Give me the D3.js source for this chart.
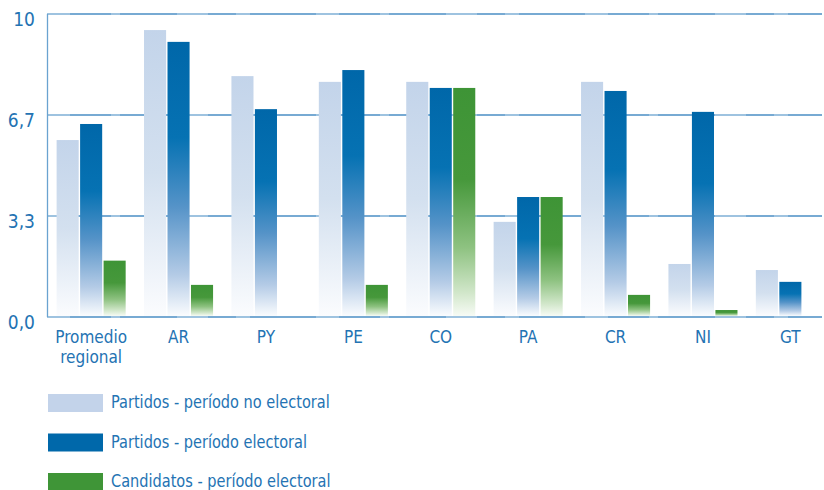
<!DOCTYPE html>
<html>
<head>
<meta charset="utf-8">
<script src="https://cdn.jsdelivr.net/npm/d3@7"></script>
<style>
  body { margin: 0; background: #fff; }
  text { font-family: "DejaVu Sans Condensed", "DejaVu Sans", sans-serif; fill: #2473b3; }
</style>
</head>
<body>
<div id="chartContainer"></div>
<script>
// chart size
var WIDTH = 824;
var HEIGHT = 490;

// categories (x axis)
var categories = ["Promedio regional", "AR", "PY", "PE", "CO", "PA", "CR", "NI", "GT"];
// series names
var seriesNames = ["Partidos - período no electoral", "Partidos - período electoral", "Candidatos - período electoral"];
// values (null = no bar)
var partidosNoElectoral = [5.84, 9.47, 7.95, 7.76, 7.76, 3.14, 7.76, 1.75, 1.55];
var partidosElectoral   = [6.37, 9.08, 6.86, 8.15, 7.56, 3.96, 7.46, 6.77, 1.16];
var candidatosElectoral = [1.86, 1.06, null, 1.06, 7.56, 3.96, 0.73, 0.23, null];
// y ticks and their labels
var tickValues = [0, 10 / 3, 20 / 3, 10];
var tickLabels = ["0,0", "3,3", "6,7", "10"];

var seriesValues = [partidosNoElectoral, partidosElectoral, candidatosElectoral];

var svg = d3.select("#chartContainer").append("svg")
    .attr("width", WIDTH)
    .attr("height", HEIGHT);

// gradients, one for every series (fade to white at the bottom of each bar)
var defs = svg.append("defs");
var gradStops = [
  [["0", "#c3d4ea"], ["0.5", "#d3e0ef"], ["1", "#fbfcfe"]],
  [["0", "#0067a9"], ["0.35", "#0672b3"], ["0.6", "#5593c8"], ["0.85", "#b4cbe6"], ["1", "#fafcfe"]],
  [["0", "#3e9436"], ["0.4", "#46983b"], ["0.7", "#8ec281"], ["0.9", "#d2e7cb"], ["1", "#f7fbf5"]]
];
gradStops.forEach(function (stops, i) {
  var g = defs.append("linearGradient")
      .attr("id", "grad" + i)
      .attr("x1", 0).attr("y1", 0).attr("x2", 0).attr("y2", 1);
  stops.forEach(function (s) {
    g.append("stop").attr("offset", s[0]).attr("stop-color", s[1]);
  });
});
var legendColors = ["#c3d3ea", "#0068aa", "#3f9537"];

// scales
var x0 = d3.scaleBand()
    .domain(categories)
    .range([47, 834.5])
    .paddingInner(0.21)
    .paddingOuter(0.11);

var x1 = d3.scaleBand()
    .domain(d3.range(seriesNames.length))
    .range([0, x0.bandwidth()])
    .paddingInner(0.06);

var y = d3.scaleLinear()
    .domain([0, 10])
    .range([317, 14]);

// grid lines (chalky blue)
var grid = svg.append("g");
tickValues.forEach(function (t) {
  grid.append("line")
      .attr("x1", 47).attr("x2", 822)
      .attr("y1", y(t)).attr("y2", y(t))
      .style("stroke", "#4a8ec4")
      .style("stroke-width", 1.6);
  grid.append("line")
      .attr("x1", 47).attr("x2", 822)
      .attr("y1", y(t)).attr("y2", y(t))
      .style("stroke", "#b9d5ea")
      .style("stroke-width", 1.6)
      .style("stroke-dasharray", "23 41 9 57 31 28 14 66")
      .style("opacity", 0.8);
});
// left axis line
grid.append("line")
    .attr("x1", 47.5).attr("x2", 47.5)
    .attr("y1", y(10)).attr("y2", y(0))
    .style("stroke", "#6aa3d0")
    .style("stroke-width", 1.3);

// y tick labels
svg.selectAll("text.ytick")
    .data(tickValues)
    .enter()
    .append("text")
    .attr("class", "ytick")
    .attr("x", 35)
    .attr("y", function (d) { return y(d) + 11.5; })
    .attr("text-anchor", "end")
    .style("font-size", "19px")
    .text(function (d, i) { return tickLabels[i]; });

// bars
var groups = svg.selectAll("g.group")
    .data(categories)
    .enter()
    .append("g")
    .attr("class", "group")
    .attr("transform", function (d) { return "translate(" + x0(d) + ",0)"; });

groups.each(function (cat, ci) {
  var barData = seriesValues.map(function (vals, si) { return { s: si, v: vals[ci] }; })
      .filter(function (d) { return d.v !== null; });
  d3.select(this).selectAll("rect")
      .data(barData)
      .enter()
      .append("rect")
      .attr("x", function (d) { return x1(d.s); })
      .attr("width", x1.bandwidth())
      .attr("y", function (d) { return y(d.v); })
      .attr("height", function (d) { return y(0) - y(d.v) - 1; })
      .style("fill", function (d) { return "url(#grad" + d.s + ")"; });
});

// x labels (split long names in two lines)
svg.selectAll("text.xlab")
    .data(categories)
    .enter()
    .append("text")
    .attr("class", "xlab")
    .attr("text-anchor", "middle")
    .attr("transform", function (d) { return "translate(" + (x0(d) + x0.bandwidth() / 2) + ",343)"; })
    .style("font-size", "17px")
    .each(function (d) {
      var words = d.split(" ");
      var t = d3.select(this);
      words.forEach(function (w, i) {
        t.append("tspan").attr("x", 0).attr("dy", i === 0 ? 0 : 19.5).text(w);
      });
    });

// legend
var legend = svg.selectAll("g.legend")
    .data(seriesNames)
    .enter()
    .append("g")
    .attr("class", "legend")
    .attr("transform", function (d, i) { return "translate(48," + (394 + i * 39.5) + ")"; });

legend.append("rect")
    .attr("width", 55)
    .attr("height", 18)
    .style("fill", function (d, i) { return legendColors[i]; });

// legend text, squeezed a bit to get the narrow look of the original font
legend.append("text")
    .attr("x", 63)
    .attr("y", 14)
    .style("font-size", "17px")
    .text(function (d) { return d; })
    .each(function () {
      var len = this.getComputedTextLength();
      d3.select(this)
        .attr("textLength", len * 0.95)
        .attr("lengthAdjust", "spacingAndGlyphs");
    });
</script>
</body>
</html>
